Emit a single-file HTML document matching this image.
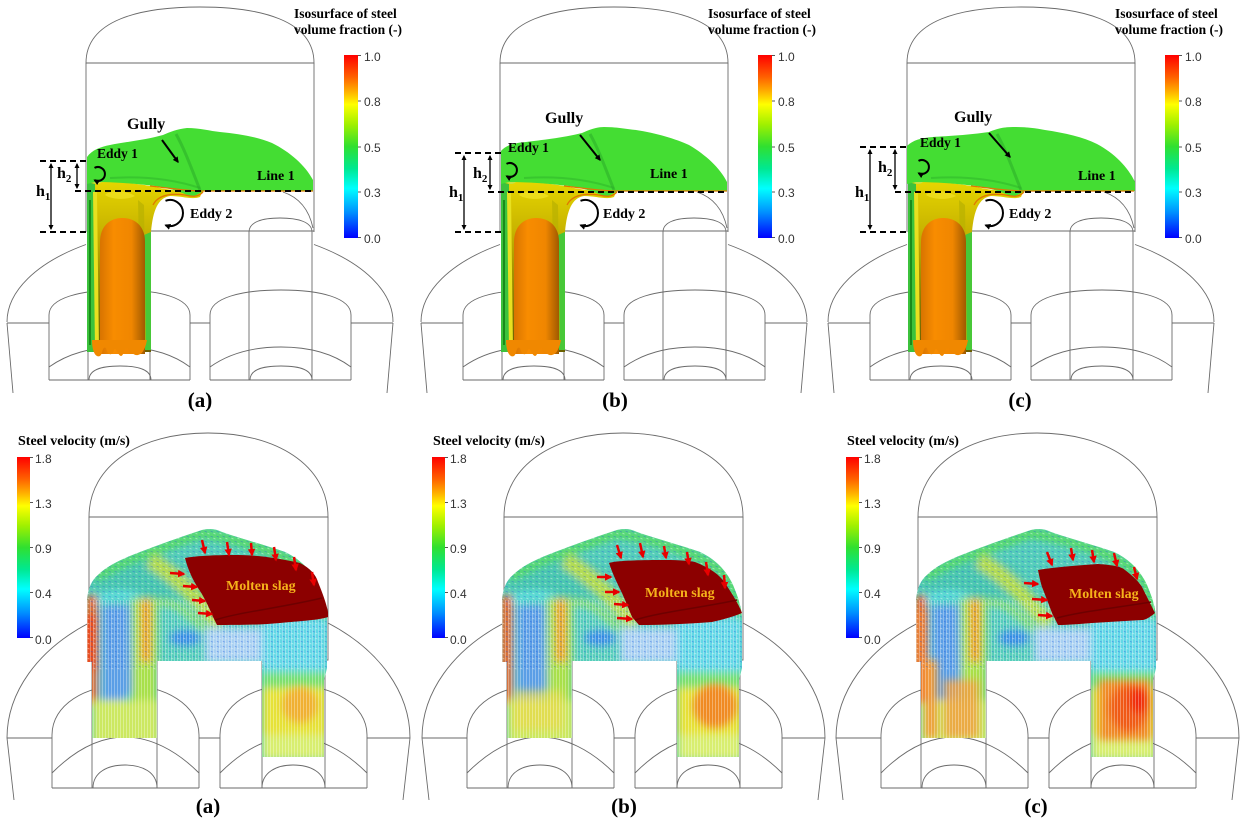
<!DOCTYPE html>
<html><head><meta charset="utf-8"><style>
html,body{margin:0;padding:0;background:#fff;}
svg{display:block;}
.t{font-family:"Liberation Serif",serif;font-weight:bold;fill:#000;}
.n{font-family:"Liberation Sans",sans-serif;font-size:12px;fill:#333;}
.s{fill:none;stroke:#6a6a6a;stroke-width:0.9;}
</style></head><body>
<svg width="1245" height="825" viewBox="0 0 1245 825" xmlns="http://www.w3.org/2000/svg">
<defs>
 <linearGradient id="cb" x1="0" y1="0" x2="0" y2="1">
  <stop offset="0" stop-color="#ff0000"/><stop offset=".12" stop-color="#ff6000"/>
  <stop offset=".2" stop-color="#ffb000"/><stop offset=".27" stop-color="#ffff00"/>
  <stop offset=".38" stop-color="#a0f000"/><stop offset=".5" stop-color="#30e030"/>
  <stop offset=".62" stop-color="#00e890"/><stop offset=".73" stop-color="#00ffff"/>
  <stop offset=".86" stop-color="#0090ff"/><stop offset="1" stop-color="#0000ff"/>
 </linearGradient>
 <linearGradient id="olv" x1="0" y1="0" x2="0" y2="1">
  <stop offset="0" stop-color="#e8d800"/><stop offset=".3" stop-color="#c8b400"/>
  <stop offset=".7" stop-color="#8a7c00"/><stop offset="1" stop-color="#6a6000"/>
 </linearGradient>
 <linearGradient id="org" x1="0" y1="0" x2="1" y2="0">
  <stop offset="0" stop-color="#d87400"/><stop offset=".3" stop-color="#f88c00"/>
  <stop offset=".7" stop-color="#f08600"/><stop offset="1" stop-color="#a05a00"/>
 </linearGradient>
 <filter id="bl" x="-30%" y="-30%" width="160%" height="160%"><feGaussianBlur stdDeviation="4"/></filter>
 <marker id="ah" viewBox="0 0 10 10" refX="8" refY="5" markerWidth="4" markerHeight="4" orient="auto-start-reverse"><path d="M0,0 L10,5 L0,10 Z" fill="#000"/></marker>
 <marker id="ah2" viewBox="0 0 10 10" refX="8" refY="5" markerWidth="3" markerHeight="3" orient="auto"><path d="M0,0 L10,5 L0,10 Z" fill="#000"/></marker>
 <marker id="ar" viewBox="0 0 10 10" refX="8" refY="5" markerWidth="3" markerHeight="3" orient="auto"><path d="M0,0 L10,5 L0,10 Z" fill="#e80000"/></marker>
 <pattern id="spk" width="6" height="5" patternUnits="userSpaceOnUse">
  <path d="M0.5,1 l2.5,1.2" stroke="#2050e0" stroke-width=".6" opacity=".5"/>
  <path d="M3.5,3.2 l2,0.9" stroke="#ffffff" stroke-width=".9" opacity=".45"/>
 </pattern>
 <pattern id="vln" width="3" height="8" patternUnits="userSpaceOnUse">
  <rect x="0" y="0" width=".8" height="8" fill="#fff" opacity=".4"/>
 </pattern>

 <g id="ts" class="s">
  <path d="M86,63 C86,20 140,7 200,7 C260,7 314,20 314,63 Z"/>
  <path d="M86,63 V232 M314,63 V232"/>
  <path d="M150,231 H314"/>
  <path d="M7,322 A193,96 0 0 1 86,244.5"/>
  <path d="M314,244.5 A193,96 0 0 1 393,322"/>
  <path d="M283,192 Q307,200 313,228"/>
  <path d="M249,380 V232 C249,222 262,218 280,218 C298,218 312,222 312,232 V380"/>
  <path d="M88,232 V380 M150,232 V380"/>
  <path d="M7,323 H49 M190,323 H210 M351,323 H393"/>
  <path d="M7,323 L13,393 M393,323 L387,393"/>
  <path d="M49,380 V315 C49,298 80,290 120,290 C160,290 190,298 190,315 V380"/>
  <path d="M49,367 C70,352 95,347 120,347 C145,347 170,352 190,367"/>
  <path d="M89,380 C89,370 100,366 120,366 C140,366 151,370 151,380"/>
  <path d="M49,380 H190"/>
  <path d="M210,380 V315 C210,298 241,290 281,290 C321,290 351,298 351,315 V380"/>
  <path d="M210,367 C231,352 256,347 281,347 C306,347 331,352 351,367"/>
  <path d="M250,380 C250,370 261,366 281,366 C301,366 312,370 312,380"/>
  <path d="M210,380 H351"/>
 </g>

 <g id="tcol">
  <path d="M87,178 C110,182 140,183 160,188 C175,191 190,192 203,190 L200,197 C192,200 182,196 170,196 C158,198 153,210 151,232 L151,352 L87,352 Z" fill="url(#olv)"/>
  <path d="M87,182 L95,184 L96,352 L87,352 Z" fill="#3cc23c"/>
  <path d="M93,192 L97,192 L99,350 L95,350Z" fill="#e8e020"/>
  <path d="M89,200 L91,200 L91,345 L89,345Z" fill="#1a8a1a"/>
  <path d="M144,235 L151,232 L151,350 L145,350Z" fill="#48c838"/>
  <path d="M138,200 L144,205 L146,345 L141,345Z" fill="#b8b000" opacity=".7"/>
  <path d="M100,354 L100,242 C100,226 110,218 122,218 C135,218 145,226 145,242 L145,354 Z" fill="url(#org)"/>
  <path d="M92,340 C92,352 96,358 100,356 C103,354 102,346 106,348 C108,356 112,356 114,350 C116,346 118,356 121,356 C124,356 124,346 128,348 C131,352 134,356 138,355 C142,354 145,350 147,340 Z" fill="#f08800"/>
  <path d="M105,195 C110,190 125,190 135,196 C128,200 112,200 105,195Z" fill="#f0e020" opacity=".8"/>
  <ellipse cx="97" cy="175" rx="8" ry="9" fill="#c8e040"/>
 </g>
 <g id="tdet" fill="none">
  <path d="M150,186 C170,188 185,191 203,191 L313,191" stroke="#e07800" stroke-width="1.3"/>
  <path d="M153,205 C158,195 170,193 185,195 C193,197 198,197 203,192" stroke="#e07800" stroke-width="1.3"/>
  <path d="M176,134 C185,150 192,170 200,190" stroke="#28a828" stroke-width="3" opacity=".5"/>
  <path d="M110,178 C140,176 170,178 200,188" stroke="#28a828" stroke-width="2" opacity=".4"/>
 </g>

 <g id="bs" class="s">
  <path d="M89,517 C89,465 140,433 208,433 C276,433 328,465 328,517 Z"/>
  <path d="M89,517 V660 H328 V517"/>
  <path d="M92,660 V788 M157,660 V788 M262,660 V788 M325,660 V788"/>
  <path d="M7,738 A201.5,143 0 0 1 89,623"/>
  <path d="M328,623 A201.5,143 0 0 1 410,738"/>
  <path d="M7,738 H52 M199,738 H220 M367,738 H410"/>
  <path d="M7,738 L14,800 M410,738 L403,800"/>
  <path d="M52,788 V735 C52,705 85,685 125,685 C165,685 199,705 199,735 V788"/>
  <path d="M52,773 C75,750 100,737 125,737 C150,737 176,750 199,773"/>
  <path d="M93,788 C93,772 108,765 125,765 C142,765 157,772 157,788"/>
  <path d="M52,788 H199"/>
  <path d="M220,788 V735 C220,705 253,685 293,685 C333,685 367,705 367,735 V788"/>
  <path d="M220,773 C243,750 268,737 293,737 C318,737 344,750 367,773"/>
  <path d="M262,788 C262,772 277,765 293,765 C310,765 325,772 325,788"/>
  <path d="M220,788 H367"/>
 </g>

 <clipPath id="bclip"><path d="M87,662 L87,600 C88,588 92,580 98,575 C106,567 118,561 130,556 C150,548 172,540 202,530 C210,528 216,529 222,532 C242,539 265,545 285,552 C300,559 311,570 318,585 C323,597 327,608 327,620 L327,668 L324,680 L324,757 L262,757 L262,661 L157,661 L157,738 L92,738 L92,662 Z"/></clipPath>
 <g id="bf">
  <rect x="80" y="520" width="260" height="240" fill="#55ceba"/>
  <g filter="url(#bl)">
   <ellipse cx="140" cy="578" rx="55" ry="22" fill="#4cc8b0"/>
   <path d="M95,578 C120,562 160,548 202,533 C240,540 280,550 312,575 C320,590 325,605 327,620" fill="none" stroke="#58dc60" stroke-width="9"/>
   <path d="M150,560 C175,575 195,595 220,625" stroke="#c8e040" stroke-width="16" fill="none" opacity=".85"/>
   <path d="M95,600 C110,594 125,594 140,598" stroke="#60e0e0" stroke-width="8" fill="none"/>
   <path d="M102,605 L130,605 L132,690 L120,705 L102,700 Z" fill="#5a9ee6"/>
   <path d="M86,596 L97,596 L97,705 L86,705 Z" fill="#f06020"/>
   <path d="M132,598 L157,598 L157,740 L132,740 Z" fill="#a8e048"/>
   <path d="M141,600 L151,600 L151,662 L141,662 Z" fill="#f09a28"/>
   <path d="M92,700 L160,700 L160,745 L92,745 Z" fill="#cce860"/>
   <path d="M152,605 C165,598 180,605 195,620 C205,630 215,640 225,645" stroke="#90e060" stroke-width="6" fill="none"/>
   <ellipse cx="185" cy="638" rx="16" ry="8" fill="#3a90e6"/>
   <rect x="205" y="628" width="57" height="35" fill="#a8d0f2"/>
   <rect x="262" y="618" width="66" height="60" fill="#62d8e6"/>
   <rect x="262" y="672" width="66" height="20" fill="#78e070"/>
   <rect x="262" y="688" width="66" height="50" fill="#e6e238"/>
   <rect x="262" y="735" width="66" height="25" fill="#d8ee70"/>
  </g>
 </g>
</defs>

<rect width="1245" height="825" fill="#fff"/>

<!-- TOP (a) -->
<g>
 <use href="#ts"/>
 <use href="#tcol"/>
 <path d="M87,157 C92,150 100,147 110,145 C125,142 145,140 163,135 C170,132 177,129 187,128 C200,128 210,131 220,132 C240,134 258,137 272,143 C290,152 305,165 313,180 L313,191 L205,191 C200,192 196,197 190,196 C180,192 170,188 155,186 C130,183 110,182 95,182 L87,184 Z" fill="#44dd33"/>
 <use href="#tdet"/>
 <g stroke="#000" stroke-width="2" stroke-dasharray="6,4" fill="none">
  <path d="M40,161 H87"/><path d="M75,191 H313"/><path d="M40,232 H87"/>
 </g>
 <g stroke="#000" stroke-width="1.3" fill="none">
  <path d="M77,164 V188" marker-start="url(#ah)" marker-end="url(#ah)"/>
  <path d="M51,164 V229" marker-start="url(#ah)" marker-end="url(#ah)"/>
 </g>
 <g stroke="#000" stroke-width="2" fill="none">
  <path d="M94.5,167.9 A7,7 0 1 1 94.5,180.1" marker-end="url(#ah2)"/>
  <path d="M165.5,200.8 A13,13 0 1 1 165.5,225.2" marker-end="url(#ah2)"/>
  <path d="M162,140 L178,162" marker-end="url(#ah2)"/>
 </g>
 <text class="t" x="127" y="129" font-size="16">Gully</text>
 <text class="t" x="97" y="158" font-size="13.5">Eddy 1</text>
 <text class="t" x="257" y="180" font-size="14">Line 1</text>
 <text class="t" x="190" y="218" font-size="14">Eddy 2</text>
 <text class="t" x="57" y="178" font-size="16">h<tspan font-size="11" dy="4">2</tspan></text>
 <text class="t" x="36" y="196" font-size="16">h<tspan font-size="11" dy="4">1</tspan></text>
 <text class="t" x="294" y="18" font-size="13.5">Isosurface of steel</text>
 <text class="t" x="294" y="34" font-size="13.5">volume fraction (-)</text>
 <rect x="344" y="55" width="14" height="183" fill="url(#cb)"/>
 <path d="M358,55.5 h3 M358,101 h3 M358,147 h3 M358,192 h3 M358,237.5 h3" stroke="#555" stroke-width="1"/>
 <text class="n" x="364" y="61">1.0</text><text class="n" x="364" y="106">0.8</text>
 <text class="n" x="364" y="152">0.5</text><text class="n" x="364" y="197">0.3</text>
 <text class="n" x="364" y="243">0.0</text>
 <text class="t" x="200" y="407" font-size="21" text-anchor="middle">(a)</text>
</g>

<!-- TOP (b) -->
<g transform="translate(414,0)">
 <use href="#ts"/>
 <use href="#tcol"/>
 <path d="M87,151 C92,145 100,143 112,142 C127,140 148,138 168,133 C175,130 182,127 190,127 C202,127 212,129 222,130 C242,133 262,139 275,145 C292,155 306,168 313,182 L313,191 L205,191 C200,192 196,197 190,196 C180,192 170,188 155,186 C130,183 110,182 95,182 L87,184 Z" fill="#44dd33"/>
 <use href="#tdet"/>
 <g stroke="#000" stroke-width="2" stroke-dasharray="6,4" fill="none">
  <path d="M41,153 H87"/><path d="M74,192 H314"/><path d="M41,232 H87"/>
 </g>
 <g stroke="#000" stroke-width="1.3" fill="none">
  <path d="M76,156 V189" marker-start="url(#ah)" marker-end="url(#ah)"/>
  <path d="M50,156 V229" marker-start="url(#ah)" marker-end="url(#ah)"/>
 </g>
 <g stroke="#000" stroke-width="2" fill="none">
  <path d="M92.5,163.9 A7,7 0 1 1 92.5,176.1" marker-end="url(#ah2)"/>
  <path d="M166.5,200.8 A13,13 0 1 1 166.5,225.2" marker-end="url(#ah2)"/>
  <path d="M166,135 L186,160" marker-end="url(#ah2)"/>
 </g>
 <text class="t" x="131" y="123" font-size="16">Gully</text>
 <text class="t" x="94" y="152" font-size="13.5">Eddy 1</text>
 <text class="t" x="236" y="178" font-size="14">Line 1</text>
 <text class="t" x="189" y="218" font-size="14">Eddy 2</text>
 <text class="t" x="59" y="178" font-size="16">h<tspan font-size="11" dy="4">2</tspan></text>
 <text class="t" x="35" y="197" font-size="16">h<tspan font-size="11" dy="4">1</tspan></text>
 <text class="t" x="294" y="18" font-size="13.5">Isosurface of steel</text>
 <text class="t" x="294" y="34" font-size="13.5">volume fraction (-)</text>
 <rect x="344" y="55" width="14" height="183" fill="url(#cb)"/>
 <path d="M358,55.5 h3 M358,101 h3 M358,147 h3 M358,192 h3 M358,237.5 h3" stroke="#555" stroke-width="1"/>
 <text class="n" x="364" y="61">1.0</text><text class="n" x="364" y="106">0.8</text>
 <text class="n" x="364" y="152">0.5</text><text class="n" x="364" y="197">0.3</text>
 <text class="n" x="364" y="243">0.0</text>
 <text class="t" x="201" y="407" font-size="21" text-anchor="middle">(b)</text>
</g>

<!-- TOP (c) -->
<g transform="translate(821,0)">
 <use href="#ts"/>
 <use href="#tcol"/>
 <path d="M86,146 C92,140 100,138 112,137 C127,136 148,135 168,132 C175,129 182,127 192,127 C204,127 214,128 224,130 C244,133 262,137 276,144 C293,153 307,167 314,182 L314,191 L205,191 C200,192 196,197 190,196 C180,192 170,188 155,186 C130,183 110,182 95,182 L86,184 Z" fill="#44dd33"/>
 <use href="#tdet"/>
 <g stroke="#000" stroke-width="2" stroke-dasharray="6,4" fill="none">
  <path d="M39,147 H87"/><path d="M74,192 H314"/><path d="M39,232 H87"/>
 </g>
 <g stroke="#000" stroke-width="1.3" fill="none">
  <path d="M74,150 V189" marker-start="url(#ah)" marker-end="url(#ah)"/>
  <path d="M49,150 V229" marker-start="url(#ah)" marker-end="url(#ah)"/>
 </g>
 <g stroke="#000" stroke-width="2" fill="none">
  <path d="M97.5,160.9 A7,7 0 1 1 97.5,173.1" marker-end="url(#ah2)"/>
  <path d="M164.5,200.8 A13,13 0 1 1 164.5,225.2" marker-end="url(#ah2)"/>
  <path d="M168,133 L189,157" marker-end="url(#ah2)"/>
 </g>
 <text class="t" x="133" y="122" font-size="16">Gully</text>
 <text class="t" x="99" y="147" font-size="13.5">Eddy 1</text>
 <text class="t" x="257" y="180" font-size="14">Line 1</text>
 <text class="t" x="188" y="218" font-size="14">Eddy 2</text>
 <text class="t" x="57" y="172" font-size="16">h<tspan font-size="11" dy="4">2</tspan></text>
 <text class="t" x="34" y="197" font-size="16">h<tspan font-size="11" dy="4">1</tspan></text>
 <text class="t" x="294" y="18" font-size="13.5">Isosurface of steel</text>
 <text class="t" x="294" y="34" font-size="13.5">volume fraction (-)</text>
 <rect x="344" y="55" width="14" height="183" fill="url(#cb)"/>
 <path d="M358,55.5 h3 M358,101 h3 M358,147 h3 M358,192 h3 M358,237.5 h3" stroke="#555" stroke-width="1"/>
 <text class="n" x="364" y="61">1.0</text><text class="n" x="364" y="106">0.8</text>
 <text class="n" x="364" y="152">0.5</text><text class="n" x="364" y="197">0.3</text>
 <text class="n" x="364" y="243">0.0</text>
 <text class="t" x="199" y="407" font-size="21" text-anchor="middle">(c)</text>
</g>

<!-- BOTTOM (a) -->
<g>
 <use href="#bs"/>
 <g clip-path="url(#bclip)">
  <use href="#bf"/>
  <g filter="url(#bl)">
   <ellipse cx="300" cy="705" rx="18" ry="18" fill="#f0b030"/>
   <rect x="85" y="615" width="9" height="55" fill="#f03c18"/>
  </g>
  <rect x="80" y="520" width="260" height="150" fill="url(#spk)"/>
  <rect x="80" y="600" width="260" height="160" fill="url(#vln)"/>
 </g>
 <path d="M185,558 C195,556 215,555 233,555 C250,555 270,556 300,563 C310,568 316,575 318,582 C322,592 326,602 328,612 L328,617 C320,620 300,621 280,623 C260,625 235,625 217,625 L213,617 C208,605 203,595 198,588 C193,580 188,570 185,558 Z" fill="#8c0000"/>
 <path d="M215,620 C240,612 280,608 322,598" stroke="#6e0000" stroke-width="1.5" fill="none"/>
 <text class="t" x="226" y="590" font-size="14" style="fill:#f5b21a">Molten slag</text>
 <g stroke="#e80000" stroke-width="2.5" fill="none" marker-end="url(#ar)">
  <path d="M202,540 L205,553"/><path d="M227,542 L229,555"/><path d="M251,543 L252,555"/>
  <path d="M274,547 L276,560"/><path d="M294,557 L296,570"/><path d="M312,572 L314,585"/>
  <path d="M170,573 L184,574"/><path d="M183,586 L197,587"/><path d="M192,600 L205,601"/><path d="M198,613 L212,614"/>
 </g>
 <text class="t" x="18" y="445" font-size="14">Steel velocity (m/s)</text>
 <rect x="17" y="457" width="13" height="181" fill="url(#cb)"/>
 <path d="M30,457.5 h3 M30,502.5 h3 M30,547.5 h3 M30,592.5 h3 M30,637.5 h3" stroke="#555" stroke-width="1"/>
 <text class="n" x="35" y="463">1.8</text><text class="n" x="35" y="508">1.3</text>
 <text class="n" x="35" y="553">0.9</text><text class="n" x="35" y="598">0.4</text>
 <text class="n" x="35" y="644">0.0</text>
 <text class="t" x="208" y="813" font-size="21" text-anchor="middle">(a)</text>
</g>

<!-- BOTTOM (b) -->
<g transform="translate(415,0)">
 <use href="#bs"/>
 <g clip-path="url(#bclip)">
  <use href="#bf"/>
  <g filter="url(#bl)">
   <ellipse cx="300" cy="706" rx="22" ry="22" fill="#f08a20"/>
   <rect x="98" y="690" width="50" height="40" fill="#e8d848" opacity=".7"/>
  </g>
  <rect x="80" y="520" width="260" height="150" fill="url(#spk)"/>
  <rect x="80" y="600" width="260" height="160" fill="url(#vln)"/>
 </g>
 <path d="M194,563 C200,561 215,560 250,560 C265,560 275,561 280,562 C295,568 305,575 310,583 C318,595 324,605 327,613 C315,618 305,620 297,622 C270,624 245,625 224,625 L217,617 C213,607 210,600 207,593 C203,585 198,575 194,563 Z" fill="#8c0000"/>
 <path d="M220,620 C245,612 285,608 322,600" stroke="#6e0000" stroke-width="1.5" fill="none"/>
 <text class="t" x="230" y="597" font-size="14" style="fill:#f5b21a">Molten slag</text>
 <g stroke="#e80000" stroke-width="2.5" fill="none" marker-end="url(#ar)">
  <path d="M202,545 L206,558"/><path d="M225,543 L228,557"/><path d="M249,546 L251,558"/>
  <path d="M272,552 L274,564"/><path d="M291,562 L293,575"/><path d="M309,575 L310,588"/>
  <path d="M182,577 L196,577"/><path d="M190,592 L204,592"/><path d="M199,604 L213,605"/><path d="M202,618 L217,619"/>
 </g>
 <text class="t" x="18" y="445" font-size="14">Steel velocity (m/s)</text>
 <rect x="17" y="457" width="13" height="181" fill="url(#cb)"/>
 <path d="M30,457.5 h3 M30,502.5 h3 M30,547.5 h3 M30,592.5 h3 M30,637.5 h3" stroke="#555" stroke-width="1"/>
 <text class="n" x="35" y="463">1.8</text><text class="n" x="35" y="508">1.3</text>
 <text class="n" x="35" y="553">0.9</text><text class="n" x="35" y="598">0.4</text>
 <text class="n" x="35" y="644">0.0</text>
 <text class="t" x="209" y="813" font-size="21" text-anchor="middle">(b)</text>
</g>

<!-- BOTTOM (c) -->
<g transform="translate(829,0)">
 <use href="#bs"/>
 <g clip-path="url(#bclip)">
  <use href="#bf"/>
  <g filter="url(#bl)">
   <path d="M270,680 L322,680 L322,740 L270,740 Z" fill="#f08a28"/>
   <ellipse cx="300" cy="708" rx="20" ry="24" fill="#f05a18"/>
   <ellipse cx="310" cy="700" rx="10" ry="14" fill="#f02a10"/>
   <path d="M96,660 L108,660 L108,738 L96,738 Z" fill="#f09a38"/>
   <path d="M115,680 L150,680 L150,738 L115,738 Z" fill="#f0a040" opacity=".85"/>
   <rect x="86" y="610" width="10" height="90" fill="#f08030"/>
  </g>
  <rect x="80" y="520" width="260" height="150" fill="url(#spk)"/>
  <rect x="80" y="600" width="260" height="160" fill="url(#vln)"/>
 </g>
 <path d="M209,570 C220,568 240,566 269,564 C285,565 293,567 296,570 C305,577 310,582 313,587 C318,597 322,605 326,613 C320,618 316,620 313,620 C295,621 280,622 263,623 C250,624 238,625 229,625 L223,613 C220,605 217,597 213,587 C211,580 210,575 209,570 Z" fill="#8c0000"/>
 <path d="M228,618 C250,612 285,608 322,602" stroke="#6e0000" stroke-width="1.5" fill="none"/>
 <text class="t" x="240" y="598" font-size="14" style="fill:#f5b21a">Molten slag</text>
 <g stroke="#e80000" stroke-width="2.5" fill="none" marker-end="url(#ar)">
  <path d="M218,552 L223,565"/><path d="M242,548 L244,560"/><path d="M263,550 L265,562"/>
  <path d="M285,553 L288,566"/><path d="M305,567 L308,579"/>
  <path d="M195,583 L209,584"/><path d="M203,599 L218,600"/><path d="M209,615 L223,616"/>
 </g>
 <text class="t" x="18" y="445" font-size="14">Steel velocity (m/s)</text>
 <rect x="17" y="457" width="13" height="181" fill="url(#cb)"/>
 <path d="M30,457.5 h3 M30,502.5 h3 M30,547.5 h3 M30,592.5 h3 M30,637.5 h3" stroke="#555" stroke-width="1"/>
 <text class="n" x="35" y="463">1.8</text><text class="n" x="35" y="508">1.3</text>
 <text class="n" x="35" y="553">0.9</text><text class="n" x="35" y="598">0.4</text>
 <text class="n" x="35" y="644">0.0</text>
 <text class="t" x="207" y="813" font-size="21" text-anchor="middle">(c)</text>
</g>
</svg>
</body></html>
